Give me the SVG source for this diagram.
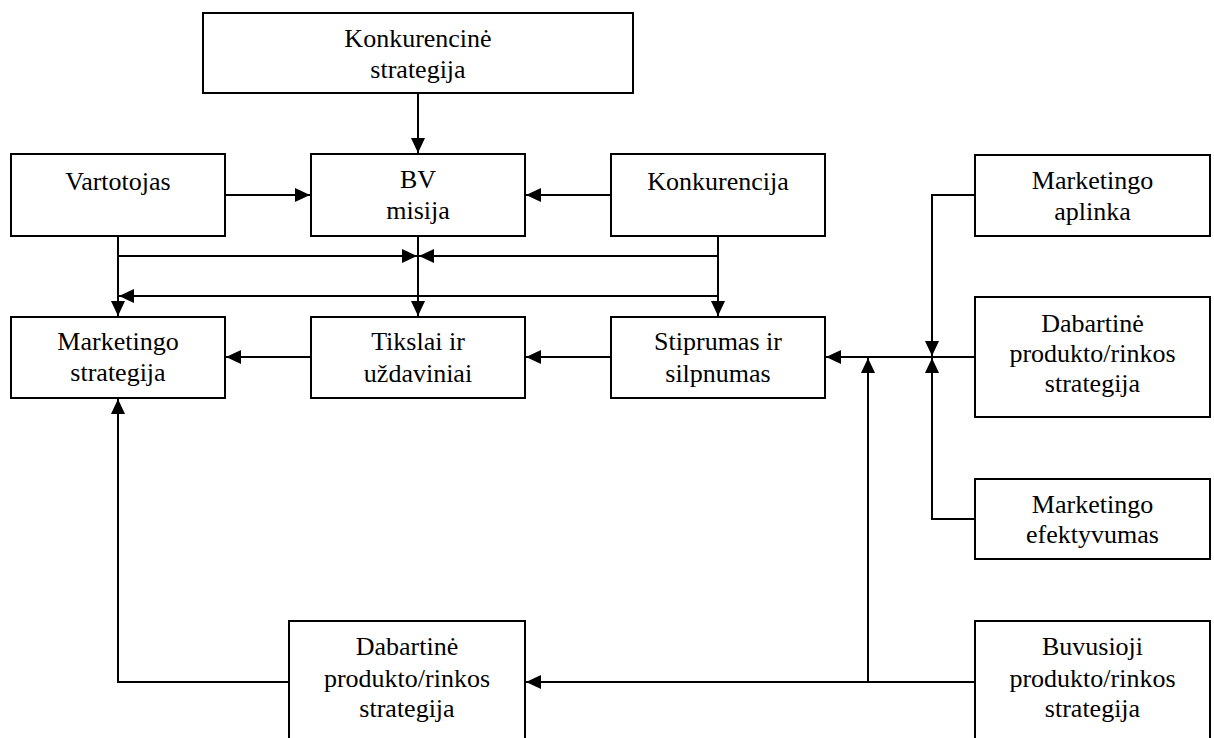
<svg xmlns="http://www.w3.org/2000/svg" width="1214" height="738" viewBox="0 0 1214 738">
  <style>
    .box { fill: #ffffff; stroke: #000000; stroke-width: 2; }
    .lbl { font-family: "Liberation Serif", "Times New Roman", serif; font-size: 26px; fill: #000000; text-anchor: middle; }
    .wire { fill: none; stroke: #000000; stroke-width: 2; }
    .arr { fill: none; stroke: #000000; stroke-width: 2; marker-end: url(#head); }
  </style>
  <defs>
    <marker id="head" markerUnits="userSpaceOnUse" markerWidth="15" markerHeight="14" refX="15" refY="7" orient="auto">
      <path d="M0,0 L15,7 L0,14 z" fill="#000000"/>
    </marker>
  </defs>
  <rect width="1214" height="738" fill="#ffffff"/>

  <!-- connectors -->
  <g id="connectors">
    <path class="arr" d="M418,93 V153"/>
    <path class="arr" d="M225,195 H310"/>
    <path class="arr" d="M611,195 H526"/>
    <path class="arr" d="M118,236 V316"/>
    <path class="arr" d="M118,256 H417"/>
    <path class="arr" d="M718,256 H419"/>
    <path class="arr" d="M418,236 V316"/>
    <path class="arr" d="M718,236 V316"/>
    <path class="arr" d="M718,296 H119"/>
    <path class="arr" d="M311,357 H226"/>
    <path class="arr" d="M611,357 H526"/>
    <path class="arr" d="M975,357 H826"/>
    <path class="arr" d="M975,195 H932 V356"/>
    <path class="arr" d="M975,519 H932 V358"/>
    <path class="arr" d="M975,682 H526"/>
    <path class="arr" d="M868,682 V358"/>
    <path class="arr" d="M289,682 H118 V399"/>
  </g>

  <g id="konkurencine-strategija">
    <rect class="box" x="203" y="13" width="430" height="80"/>
    <text class="lbl" x="418" y="47">Konkurencinė</text>
    <text class="lbl" x="418" y="78">strategija</text>
  </g>

  <g id="vartotojas">
    <rect class="box" x="11" y="154" width="214" height="82"/>
    <text class="lbl" x="118" y="190">Vartotojas</text>
  </g>

  <g id="bv-misija">
    <rect class="box" x="311" y="154" width="214" height="82"/>
    <text class="lbl" x="418" y="188">BV</text>
    <text class="lbl" x="418" y="219">misija</text>
  </g>

  <g id="konkurencija">
    <rect class="box" x="611" y="154" width="214" height="82"/>
    <text class="lbl" x="718" y="190">Konkurencija</text>
  </g>

  <g id="marketingo-strategija">
    <rect class="box" x="11" y="317" width="214" height="81"/>
    <text class="lbl" x="118" y="350">Marketingo</text>
    <text class="lbl" x="118" y="381">strategija</text>
  </g>

  <g id="tikslai">
    <rect class="box" x="311" y="317" width="214" height="81"/>
    <text class="lbl" x="418" y="350">Tikslai ir</text>
    <text class="lbl" x="418" y="382">uždaviniai</text>
  </g>

  <g id="stiprumas">
    <rect class="box" x="611" y="317" width="214" height="81"/>
    <text class="lbl" x="718" y="350">Stiprumas ir</text>
    <text class="lbl" x="718" y="382">silpnumas</text>
  </g>

  <g id="marketingo-aplinka">
    <rect class="box" x="975" y="155" width="235" height="81"/>
    <text class="lbl" x="1092.5" y="189">Marketingo</text>
    <text class="lbl" x="1092.5" y="220">aplinka</text>
  </g>

  <g id="dabartine-dešinė">
    <rect class="box" x="975" y="297" width="235" height="120"/>
    <text class="lbl" x="1092.5" y="332">Dabartinė</text>
    <text class="lbl" x="1092.5" y="362">produkto/rinkos</text>
    <text class="lbl" x="1092.5" y="392">strategija</text>
  </g>

  <g id="marketingo-efektyvumas">
    <rect class="box" x="975" y="479" width="235" height="80"/>
    <text class="lbl" x="1092.5" y="513">Marketingo</text>
    <text class="lbl" x="1092.5" y="543">efektyvumas</text>
  </g>

  <g id="dabartine-apacia">
    <rect class="box" x="289" y="621" width="236" height="130"/>
    <text class="lbl" x="407" y="655">Dabartinė</text>
    <text class="lbl" x="407" y="687">produkto/rinkos</text>
    <text class="lbl" x="407" y="717">strategija</text>
  </g>

  <g id="buvusioji">
    <rect class="box" x="975" y="621" width="235" height="130"/>
    <text class="lbl" x="1092.5" y="655">Buvusioji</text>
    <text class="lbl" x="1092.5" y="687">produkto/rinkos</text>
    <text class="lbl" x="1092.5" y="717">strategija</text>
  </g>
</svg>
